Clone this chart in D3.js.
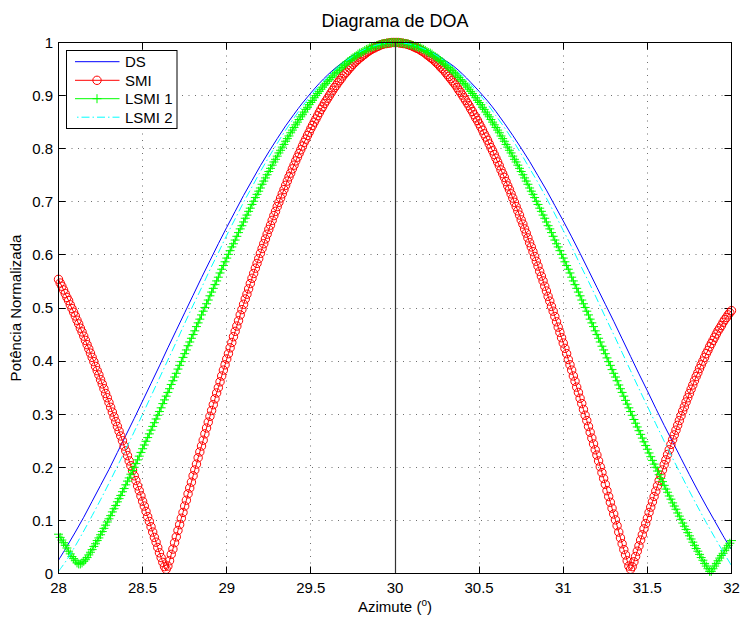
<!DOCTYPE html>
<html><head><meta charset="utf-8">
<script src="https://cdn.jsdelivr.net/npm/d3@7"></script>
<style>
body{margin:0;background:#fff}
svg{display:block}
text{font-family:"Liberation Sans",Arial,Helvetica,sans-serif;fill:#000}
</style>
</head><body>
<svg id="chart" width="740" height="619"></svg>
<script>
// ---------------- data ----------------
const azStart = 28;
const stepSMI = 0.01;     // SMI sampled every 0.01 deg
const stepLSMI1 = 0.01;   // LSMI 1 sampled every 0.01 deg
const stepLine = 0.05;    // DS and LSMI 2 sampled every 0.05 deg

const titleText = "Diagrama de DOA";
const xLabelText = "Azimute (";
const yLabelText = "Potência Normalizada";
const seriesNames = ["DS", "SMI", "LSMI 1", "LSMI 2"];

const xTicks = [28, 28.5, 29, 29.5, 30, 30.5, 31, 31.5, 32];
const xTickLabels = ["28", "28.5", "29", "29.5", "30", "30.5", "31", "31.5", "32"];
const yTicks = [0, 0.1, 0.2, 0.3, 0.4, 0.5, 0.6, 0.7, 0.8, 0.9, 1];
const yTickLabels = ["0", "0.1", "0.2", "0.3", "0.4", "0.5", "0.6", "0.7", "0.8", "0.9", "1"];
const lookDirection = 30;

const dsValues = [
.025,.051,.078,.106,.136,.166,.196,.228,.260,.292,
.325,.358,.391,.425,.458,.491,.524,.557,.589,.621,
.652,.682,.712,.740,.768,.794,.819,.843,.865,.886,
.905,.923,.939,.953,.965,.976,.984,.991,.996,.999,
1,
.999,.996,.992,.985,.977,.966,.955,.941,.925,.908,
.890,.870,.848,.825,.801,.776,.749,.722,.693,.664,
.634,.603,.571,.539,.507,.475,.442,.409,.376,.344,
.311,.279,.248,.217,.186,.156,.127,.099,.071,.045];

const lsmi2Values = [
.004,.026,.052,.080,.109,.139,.170,.202,.234,.267,
.300,.334,.368,.402,.436,.471,.505,.538,.572,.604,
.637,.668,.699,.728,.757,.784,.810,.835,.858,.880,
.900,.919,.935,.950,.963,.974,.984,.991,.996,.999,
1,
.999,.996,.991,.984,.975,.964,.952,.937,.921,.903,
.884,.862,.840,.816,.790,.763,.736,.707,.677,.646,
.615,.582,.550,.517,.483,.450,.416,.382,.348,.315,
.282,.249,.217,.186,.155,.125,.096,.068,.041,.015];

const smiValues = [
.554,.547,.541,.534,.527,.520,.514,.506,.499,.492,
.485,.477,.470,.462,.455,.447,.439,.431,.423,.415,
.407,.399,.390,.382,.374,.365,.357,.348,.339,.331,
.322,.313,.304,.295,.286,.277,.268,.259,.250,.240,
.231,.222,.212,.203,.194,.184,.175,.165,.156,.146,
.136,.127,.117,.107,.098,.088,.078,.068,.059,.049,
.039,.030,.021,.013,
.008,
.014,.024,.036,.046,.058,.069,.081,.092,.104,.115,
.127,.138,.150,.161,.172,.184,.195,.206,.218,.229,
.240,.251,.263,.274,.285,.296,.307,.318,.329,.340,
.350,.361,.372,.383,.393,.404,.414,.425,.435,.446,
.456,.466,.476,.487,.497,.507,.517,.526,.536,.546,
.556,.565,.575,.584,.593,.603,.612,.621,.630,.639,
.648,.656,.665,.674,.682,.691,.699,.707,.715,.723,
.731,.739,.747,.754,.762,.769,.777,.784,.791,.798,
.805,.812,.818,.825,.831,.838,.844,.850,.856,.862,
.868,.874,.879,.885,.890,.895,.900,.905,.910,.915,
.919,.924,.928,.932,.937,.941,.944,.948,.952,.955,
.959,.962,.965,.968,.971,.973,.976,.978,.981,.983,
.985,.987,.989,.990,.992,.993,.995,.996,.997,.998,
.998,.999,.999,1,1,1,
1,1,.999,.999,.998,.998,.997,.996,.995,.994,
.992,.991,.989,.988,.986,.984,.982,.980,.977,.975,
.972,.970,.967,.964,.961,.958,.954,.951,.948,.944,
.940,.936,.932,.928,.924,.920,.915,.910,.906,.901,
.896,.891,.886,.881,.875,.870,.864,.858,.853,.847,
.841,.835,.828,.822,.816,.809,.802,.796,.789,.782,
.775,.768,.760,.753,.746,.738,.730,.723,.715,.707,
.699,.691,.683,.675,.666,.658,.649,.641,.632,.623,
.615,.606,.597,.588,.579,.569,.560,.551,.541,.532,
.522,.513,.503,.494,.484,.474,.464,.454,.444,.434,
.424,.414,.403,.393,.383,.372,.362,.351,.341,.330,
.320,.309,.298,.288,.277,.266,.255,.244,.233,.223,
.212,.201,.190,.179,.168,.156,.145,.134,.123,.112,
.101,.090,.078,.067,.056,.045,.035,.024,.014,.008,
.013,.022,.032,.042,.052,.063,.073,.084,.094,.104,
.115,.125,.135,.145,.155,.165,.175,.185,.195,.205,
.214,.224,.233,.243,.252,.261,.270,.279,.288,.297,
.306,.314,.323,.331,.339,.347,.355,.363,.371,.378,
.386,.393,.400,.407,.414,.420,.427,.433,.439,.445,
.451,.457,.462,.467,.473,.478,.482,.487,.491,.495];

const lsmi1Values = [
.074,.068,.063,.058,.053,.048,.042,.037,.032,.028,
.024,.020,.018,.018,.020,.023,.026,.030,.035,.040,
.045,.051,.056,.062,.067,.073,.079,.085,.091,.097,
.103,.109,.116,.122,.128,.135,.141,.147,.154,.160,
.167,.174,.180,.187,.194,.200,.207,.214,.221,.228,
.235,.242,.249,.256,.263,.270,.277,.284,.291,.298,
.305,.312,.320,.327,.334,.341,.348,.356,.363,.370,
.377,.385,.392,.399,.407,.414,.421,.429,.436,.443,
.450,.457,.465,.472,.479,.487,.494,.501,.508,.515,
.523,.530,.537,.544,.551,.558,.566,.573,.580,.587,
.594,.601,.608,.615,.621,.628,.635,.642,.649,.655,
.662,.669,.675,.682,.688,.695,.701,.708,.714,.720,
.726,.733,.739,.745,.751,.757,.763,.769,.775,.780,
.786,.792,.797,.803,.808,.814,.819,.824,.830,.835,
.840,.845,.850,.855,.860,.864,.869,.874,.878,.883,
.887,.891,.896,.900,.904,.908,.912,.916,.920,.923,
.927,.930,.934,.937,.941,.944,.947,.950,.953,.956,
.958,.961,.964,.966,.969,.971,.973,.975,.978,.980,
.981,.983,.985,.987,.988,.990,.991,.992,.993,.994,
.995,.996,.997,.998,.998,.999,.999,1,1,1,
1,
1,1,1,.999,.999,.998,.998,.997,.996,.995,
.994,.993,.992,.991,.990,.988,.987,.985,.983,.981,
.980,.978,.975,.973,.971,.969,.966,.964,.961,.958,
.956,.953,.950,.947,.944,.941,.937,.934,.930,.927,
.923,.920,.916,.912,.908,.904,.900,.896,.891,.887,
.883,.878,.874,.869,.864,.860,.855,.850,.845,.840,
.835,.830,.824,.819,.814,.808,.803,.797,.792,.786,
.780,.775,.769,.763,.757,.751,.745,.739,.733,.726,
.720,.714,.708,.701,.695,.688,.682,.675,.669,.662,
.655,.649,.642,.635,.628,.621,.615,.608,.601,.594,
.587,.580,.573,.566,.558,.551,.544,.537,.530,.523,
.515,.508,.501,.494,.487,.479,.472,.465,.457,.450,
.443,.436,.428,.421,.414,.406,.399,.392,.384,.377,
.370,.363,.355,.348,.341,.334,.326,.319,.312,.305,
.298,.290,.283,.276,.269,.262,.255,.248,.241,.234,
.227,.220,.213,.206,.200,.193,.186,.179,.173,.166,
.159,.153,.146,.140,.133,.127,.121,.114,.108,.102,
.095,.089,.083,.077,.071,.065,.059,.053,.047,.042,
.036,.030,.025,.019,.014,.009,.004,.004,.009,.014,
.019,.024,.029,.034,.038,.043,.048,.053,.057,.062];

// ---------------- chart ----------------
const svg = d3.select("#chart");
const W = 740, H = 619;
const plot = {left: 58.5, right: 731.5, top: 42.5, bottom: 573.5};
const x = d3.scaleLinear().domain([28, 32]).range([plot.left, plot.right]);
const y = d3.scaleLinear().domain([0, 1]).range([plot.bottom, plot.top]);
const crisp = v => Math.round(v - 0.5) + 0.5;

const azGrid = (n, step) => d3.range(n).map(i => +(azStart + i * step).toFixed(4));
const toPts = (vals, step) => { const az = azGrid(vals.length, step); return vals.map((v, i) => [az[i], v]); };

const dsPts = toPts(dsValues, stepLine);
const smiPts = toPts(smiValues, stepSMI);
const lsmi1Pts = toPts(lsmi1Values, stepLSMI1);
const lsmi2Pts = toPts(lsmi2Values, stepLine);

svg.append("rect").attr("width", W).attr("height", H).attr("fill", "#fff");

// grid
const gGrid = svg.append("g").attr("stroke", "#6f6f6f").attr("stroke-width", 1).attr("stroke-dasharray", "1,5.5");
xTicks.slice(1, -1).forEach(t => {
  gGrid.append("line").attr("x1", crisp(x(t))).attr("x2", crisp(x(t))).attr("y1", plot.top).attr("y2", plot.bottom);
});
yTicks.slice(1, -1).forEach(t => {
  gGrid.append("line").attr("y1", crisp(y(t))).attr("y2", crisp(y(t))).attr("x1", plot.left).attr("x2", plot.right);
});

// ticks (inward, all four sides)
const gTicks = svg.append("g").attr("stroke", "#000").attr("stroke-width", 1);
const tl = 7;
xTicks.forEach(t => {
  const xx = crisp(x(t));
  gTicks.append("line").attr("x1", xx).attr("x2", xx).attr("y1", plot.bottom).attr("y2", plot.bottom - tl);
  gTicks.append("line").attr("x1", xx).attr("x2", xx).attr("y1", plot.top).attr("y2", plot.top + tl);
});
yTicks.forEach(t => {
  const yy = crisp(y(t));
  gTicks.append("line").attr("y1", yy).attr("y2", yy).attr("x1", plot.left).attr("x2", plot.left + tl);
  gTicks.append("line").attr("y1", yy).attr("y2", yy).attr("x1", plot.right).attr("x2", plot.right - tl);
});

// series
const line = d3.line().x(d => x(d[0])).y(d => y(d[1]));
const smooth = d3.line().x(d => x(d[0])).y(d => y(d[1])).curve(d3.curveCatmullRom.alpha(0.5));

svg.append("path").attr("d", smooth(dsPts)).attr("fill", "none").attr("stroke", "#0000ff").attr("stroke-width", 1);

svg.append("path").attr("d", line(smiPts)).attr("fill", "none").attr("stroke", "#ff0000").attr("stroke-width", 1);
svg.append("g").selectAll("circle").data(smiPts).join("circle")
  .attr("cx", d => x(d[0])).attr("cy", d => y(d[1])).attr("r", 4.2)
  .attr("fill", "none").attr("stroke", "#ff0000").attr("stroke-width", 1);

const plusPath = "M-4.5,0H4.5M0,-4.5V4.5";
svg.append("path").attr("d", line(lsmi1Pts)).attr("fill", "none").attr("stroke", "#00ff00").attr("stroke-width", 1);
svg.append("g").selectAll("path").data(lsmi1Pts).join("path")
  .attr("transform", d => `translate(${x(d[0])},${y(d[1])})`)
  .attr("d", plusPath).attr("fill", "none").attr("stroke", "#00ff00").attr("stroke-width", 1);

svg.append("path").attr("d", smooth(lsmi2Pts)).attr("fill", "none").attr("stroke", "#00ffff")
  .attr("stroke-width", 1).attr("stroke-dasharray", "8,3,1.5,3");

// look-direction line
svg.append("line").attr("x1", crisp(x(lookDirection))).attr("x2", crisp(x(lookDirection)))
  .attr("y1", y(0)).attr("y2", y(1)).attr("stroke", "#333").attr("stroke-width", 1.2);

// axis box
svg.append("rect").attr("x", plot.left).attr("y", plot.top)
  .attr("width", plot.right - plot.left).attr("height", plot.bottom - plot.top)
  .attr("fill", "none").attr("stroke", "#000").attr("stroke-width", 1);

// tick labels
const fs = 15;
xTicks.forEach((t, i) => {
  svg.append("text").attr("x", x(t)).attr("y", 592.5).attr("text-anchor", "middle")
    .attr("font-size", fs).text(xTickLabels[i]);
});
yTicks.forEach((t, i) => {
  svg.append("text").attr("x", 53).attr("y", y(t) + 5.3).attr("text-anchor", "end")
    .attr("font-size", fs).text(yTickLabels[i]);
});

// title and labels
svg.append("text").attr("x", (plot.left + plot.right) / 2).attr("y", 27).attr("text-anchor", "middle")
  .attr("font-size", 18).text(titleText);
const xl = svg.append("text").attr("x", (plot.left + plot.right) / 2).attr("y", 612).attr("text-anchor", "middle")
  .attr("font-size", fs);
xl.append("tspan").text(xLabelText);
xl.append("tspan").attr("dy", -6).attr("font-size", 10).text("o");
xl.append("tspan").attr("dy", 6).text(")");
svg.append("text").attr("transform", `translate(21,${(plot.top + plot.bottom) / 2}) rotate(-90)`)
  .attr("text-anchor", "middle").attr("font-size", fs).text(yLabelText);

// legend
const lg = svg.append("g");
lg.append("rect").attr("x", 66.5).attr("y", 50.5).attr("width", 110.5).attr("height", 78)
  .attr("fill", "#fff").attr("stroke", "#000").attr("stroke-width", 1);
const legY = [61.7, 80.3, 98.7, 117.2];
const legStroke = ["#0000ff", "#ff0000", "#00ff00", "#00ffff"];
seriesNames.forEach((name, i) => {
  const ly = legY[i];
  const ln = lg.append("line").attr("x1", 75).attr("x2", 119.5).attr("y1", ly).attr("y2", ly)
    .attr("stroke", legStroke[i]).attr("stroke-width", 1);
  if (i === 3) ln.attr("stroke-dasharray", "8,3,1.5,3").attr("stroke-dashoffset", 9);
  if (i === 1) lg.append("circle").attr("cx", 97).attr("cy", ly).attr("r", 4.2)
    .attr("fill", "none").attr("stroke", legStroke[i]);
  if (i === 2) lg.append("path").attr("transform", `translate(97,${ly})`).attr("d", plusPath)
    .attr("fill", "none").attr("stroke", legStroke[i]);
  lg.append("text").attr("x", 125).attr("y", ly + 5.3).attr("font-size", fs).text(name);
});
</script>
</body></html>
